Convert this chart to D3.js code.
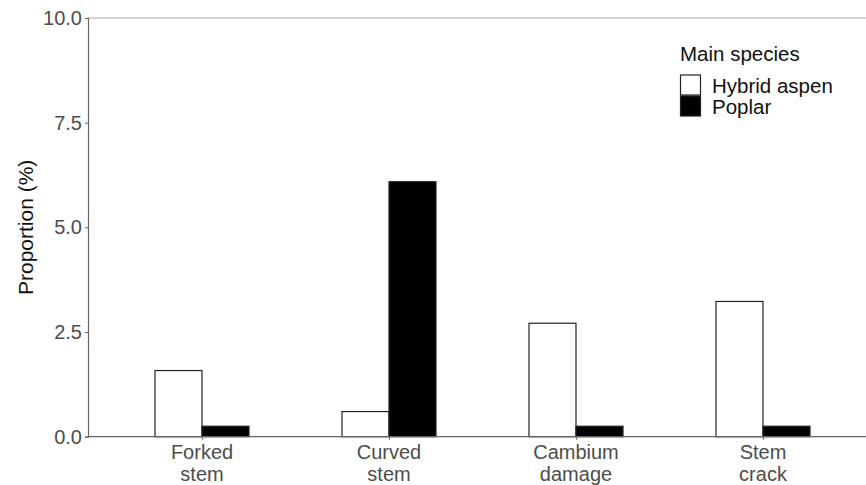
<!DOCTYPE html>
<html>
<head>
<meta charset="utf-8">
<script src="https://cdn.jsdelivr.net/npm/d3@7"></script>
<style>
  body { margin: 0; background: #fff; }
  text { font-family: "Liberation Sans", Arial, sans-serif; }
</style>
</head>
<body>
<div id="chart"></div>
<script>
// chart data
const categories = ["Forked\nstem", "Curved\nstem", "Cambium\ndamage", "Stem\ncrack"];
const species = ["Hybrid aspen", "Poplar"];
const hybridAspen = [1.58, 0.60, 2.71, 3.23];
const poplar = [0.25, 6.09, 0.25, 0.25];
const yTicks = [0, 2.5, 5, 7.5, 10];

const width = 866,
    height = 485;

const svg = d3.select("#chart")
    .append("svg")
    .attr("width", width)
    .attr("height", height);

// positions of the four groups
const x = d3.scalePoint()
    .domain(categories)
    .range([202, 763]);

const barW = 47;

const y = d3.scaleLinear()
    .domain([0, 10])
    .range([436.7, 18]);

const colors = d3.scaleOrdinal()
    .domain(species)
    .range(["#ffffff", "#000000"]);

// top border line
svg.append("line")
    .attr("x1", 88).attr("x2", width)
    .attr("y1", y(10)).attr("y2", y(10))
    .attr("stroke", "#a6a6a6")
    .attr("stroke-width", 1.2);

// bars
const rows = categories.map((c, i) => ({ cat: c, values: [hybridAspen[i], poplar[i]] }));

const groups = svg.append("g")
    .selectAll("g")
    .data(rows)
    .join("g")
    .attr("transform", d => `translate(${x(d.cat)},0)`);

groups.selectAll("rect")
    .data(d => d.values.map((v, j) => ({ v, sp: species[j], j })))
    .join("rect")
    .attr("x", d => d.j === 0 ? -barW : 0)
    .attr("y", d => y(d.v))
    .attr("width", barW)
    .attr("height", d => y(0) - y(d.v))
    .attr("fill", d => colors(d.sp))
    .attr("stroke", "#222")
    .attr("stroke-width", 1.2);

// y axis
const yAxis = svg.append("g")
    .attr("transform", "translate(88,0)")
    .call(d3.axisLeft(y).tickValues(yTicks).tickFormat(d3.format(".1f")).tickSize(3).tickPadding(3));
yAxis.select(".domain").attr("stroke", "#666").attr("stroke-width", 1.2);
yAxis.selectAll(".tick line").attr("stroke", "#666");
yAxis.selectAll("text")
    .attr("fill", "#4d4d4d")
    .style("font-size", "20px")
    .style("font-family", "'Liberation Sans', Arial, sans-serif");

// x axis
const xAxis = svg.append("g")
    .attr("transform", `translate(0,${y(0)})`)
    .call(d3.axisBottom(x).tickSize(3).tickFormat(""));
xAxis.select(".domain")
    .attr("d", `M88,0H${width}`)
    .attr("stroke", "#666").attr("stroke-width", 1.2);
xAxis.selectAll(".tick line").attr("stroke", "#666");

const xLabels = svg.append("g")
    .selectAll("text")
    .data(categories)
    .join("text")
    .attr("x", d => x(d))
    .attr("y", 459)
    .attr("text-anchor", "middle")
    .attr("fill", "#4d4d4d")
    .style("font-size", "20px");
xLabels.selectAll("tspan")
    .data(d => d.split("\n").map(t => ({ t, parent: d })))
    .join("tspan")
    .attr("x", d => x(d.parent))
    .attr("dy", (d, i) => i === 0 ? 0 : 22)
    .text(d => d.t);

// y axis title
svg.append("text")
    .attr("transform", `translate(33,${y(5)}) rotate(-90)`)
    .attr("text-anchor", "middle")
    .attr("fill", "#111")
    .style("font-size", "21px")
    .text("Proportion (%)");

// legend
const legend = svg.append("g").attr("transform", "translate(680,0)");
legend.append("text")
    .attr("x", 0).attr("y", 61)
    .attr("fill", "#111")
    .style("font-size", "20.5px")
    .text("Main species");

const keys = legend.selectAll("g.key")
    .data(species)
    .join("g")
    .attr("class", "key")
    .attr("transform", (d, i) => `translate(0,${75 + i * 21})`);
keys.append("rect")
    .attr("x", 0.5).attr("y", 0)
    .attr("width", 20).attr("height", 20)
    .attr("fill", d => colors(d))
    .attr("stroke", "#222")
    .attr("stroke-width", 1.2);
keys.append("text")
    .attr("x", 32).attr("y", 18)
    .attr("fill", "#111")
    .style("font-size", "20.5px")
    .text(d => d);
</script>
</body>
</html>
